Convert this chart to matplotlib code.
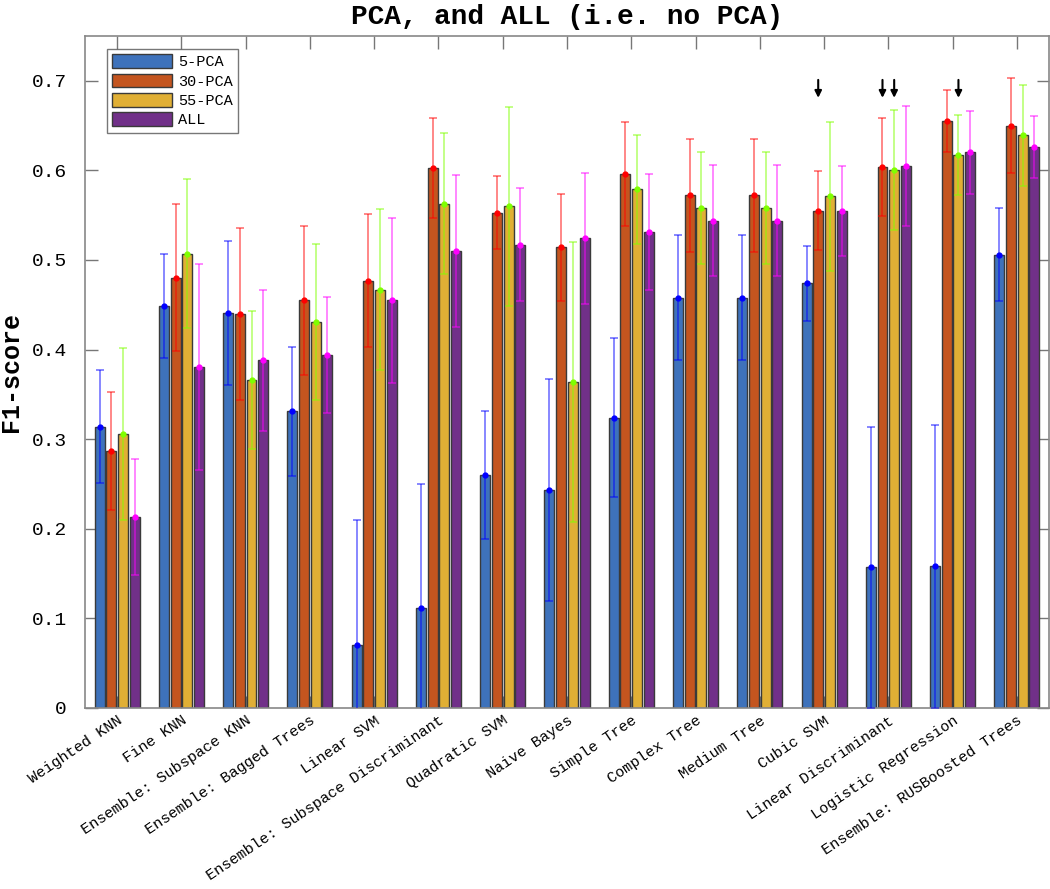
import numpy as np
import matplotlib
matplotlib.use('Agg')
import matplotlib.pyplot as plt

# categorias (clasificadores)
categorias = ['Weighted KNN', 'Fine KNN', 'Ensemble: Subspace KNN', 'Ensemble: Bagged Trees',
              'Linear SVM', 'Ensemble: Subspace Discriminant', 'Quadratic SVM', 'Naive Bayes',
              'Simple Tree', 'Complex Tree', 'Medium Tree', 'Cubic SVM',
              'Linear Discriminant', 'Logistic Regression', 'Ensemble: RUSBoosted Trees']
series = ['5-PCA', '30-PCA', '55-PCA', 'ALL']

# valores F1 y barras de error
pca5 = [0.314, 0.449, 0.441, 0.331, 0.070, 0.112, 0.260, 0.243, 0.324, 0.458, 0.458, 0.474, 0.157, 0.158, 0.506]
pca5_err = [0.063, 0.058, 0.080, 0.072, 0.140, 0.138, 0.071, 0.124, 0.089, 0.070, 0.070, 0.042, 0.157, 0.158, 0.052]
pca30 = [0.287, 0.480, 0.440, 0.455, 0.477, 0.603, 0.553, 0.514, 0.596, 0.572, 0.572, 0.555, 0.604, 0.655, 0.650]
pca30_err = [0.066, 0.082, 0.096, 0.083, 0.074, 0.056, 0.041, 0.060, 0.058, 0.063, 0.063, 0.044, 0.055, 0.035, 0.053]
pca55 = [0.306, 0.507, 0.366, 0.431, 0.467, 0.563, 0.560, 0.364, 0.579, 0.558, 0.558, 0.571, 0.600, 0.617, 0.639]
pca55_err = [0.096, 0.083, 0.077, 0.087, 0.090, 0.079, 0.111, 0.156, 0.061, 0.062, 0.062, 0.083, 0.067, 0.045, 0.056]
todos = [0.213, 0.381, 0.388, 0.394, 0.455, 0.510, 0.517, 0.524, 0.531, 0.544, 0.544, 0.555, 0.605, 0.620, 0.626]
todos_err = [0.065, 0.115, 0.079, 0.065, 0.092, 0.085, 0.063, 0.073, 0.065, 0.062, 0.062, 0.050, 0.067, 0.046, 0.035]

# flechas: (categoria, serie)
flechas = [(11, 1), (12, 1), (12, 2), (13, 2)]

valores = [pca5, pca30, pca55, todos]
errores = [pca5_err, pca30_err, pca55_err, todos_err]
colores = ['#3E72BB', '#C4551F', '#E0AF35', '#713089']
colores_err = ['#0000FF', '#FF0000', '#80FF00', '#FF00FF']

fuente = 'Liberation Mono'
plt.rcParams['font.family'] = [fuente, 'DejaVu Sans Mono']

fig = plt.figure(figsize=(10.5, 8.89), dpi=100)
ax = fig.add_axes([85/1050, 1-708/889, 964/1050, 672/889])

x = np.arange(1, len(categorias)+1)
paso = 0.182
ancho = 0.155
for i in range(4):
    pos = x + (i-1.5)*paso
    ax.bar(pos, valores[i], ancho, color=colores[i], edgecolor='#3a3a3a', linewidth=1, label=series[i], zorder=2)
    ax.errorbar(pos, valores[i], yerr=errores[i], fmt='none', ecolor=colores_err[i], elinewidth=1.2,
                capsize=3, capthick=1.2, alpha=0.55, zorder=3)
    ax.plot(pos, valores[i], 'o', color=colores_err[i], markersize=3.5, zorder=4)

# flechas negras
for c, s in flechas:
    xp = x[c] + (s-1.5)*paso
    ax.annotate('', xy=(xp, 0.681), xytext=(xp, 0.701),
                arrowprops=dict(arrowstyle='-|>', color='black', lw=1.5, mutation_scale=10,
                                shrinkA=0, shrinkB=0))

ax.set_xlim(0.5, 15.5)
ax.set_ylim(0, 0.75)
ax.set_xticks(x)
ax.set_xticklabels(categorias, rotation=34, ha='right', rotation_mode='anchor', fontsize=11)
ax.set_yticks(np.arange(0, 0.71, 0.1))
ax.set_yticklabels(['0', '0.1', '0.2', '0.3', '0.4', '0.5', '0.6', '0.7'], fontsize=14)
ax.tick_params(direction='in', length=9, color='#777777', top=True, right=True, width=1)
ax.tick_params(axis='x', pad=4)
ax.tick_params(axis='y', pad=13)
for lado in ax.spines.values():
    lado.set_color('#888888')
    lado.set_linewidth(1.2)

leg = ax.legend(loc='upper left', bbox_to_anchor=(22/964, 1-13/672), borderaxespad=0, fontsize=11,
                handlelength=3.9, handleheight=1.0, labelspacing=0.28, fancybox=False, borderpad=0.35,
                handletextpad=0.4)
leg.get_frame().set_edgecolor('#555555')
leg.get_frame().set_linewidth(1)

fig.text(11/1050, 1-372/889, 'F1-score', rotation=90, fontsize=18, fontweight='bold', ha='center', va='center')
fig.text(567/1050, 1-17/889, 'PCA, and ALL (i.e. no PCA)', fontsize=20, fontweight='bold', ha='center', va='center')

plt.savefig('out.png', dpi=100)
